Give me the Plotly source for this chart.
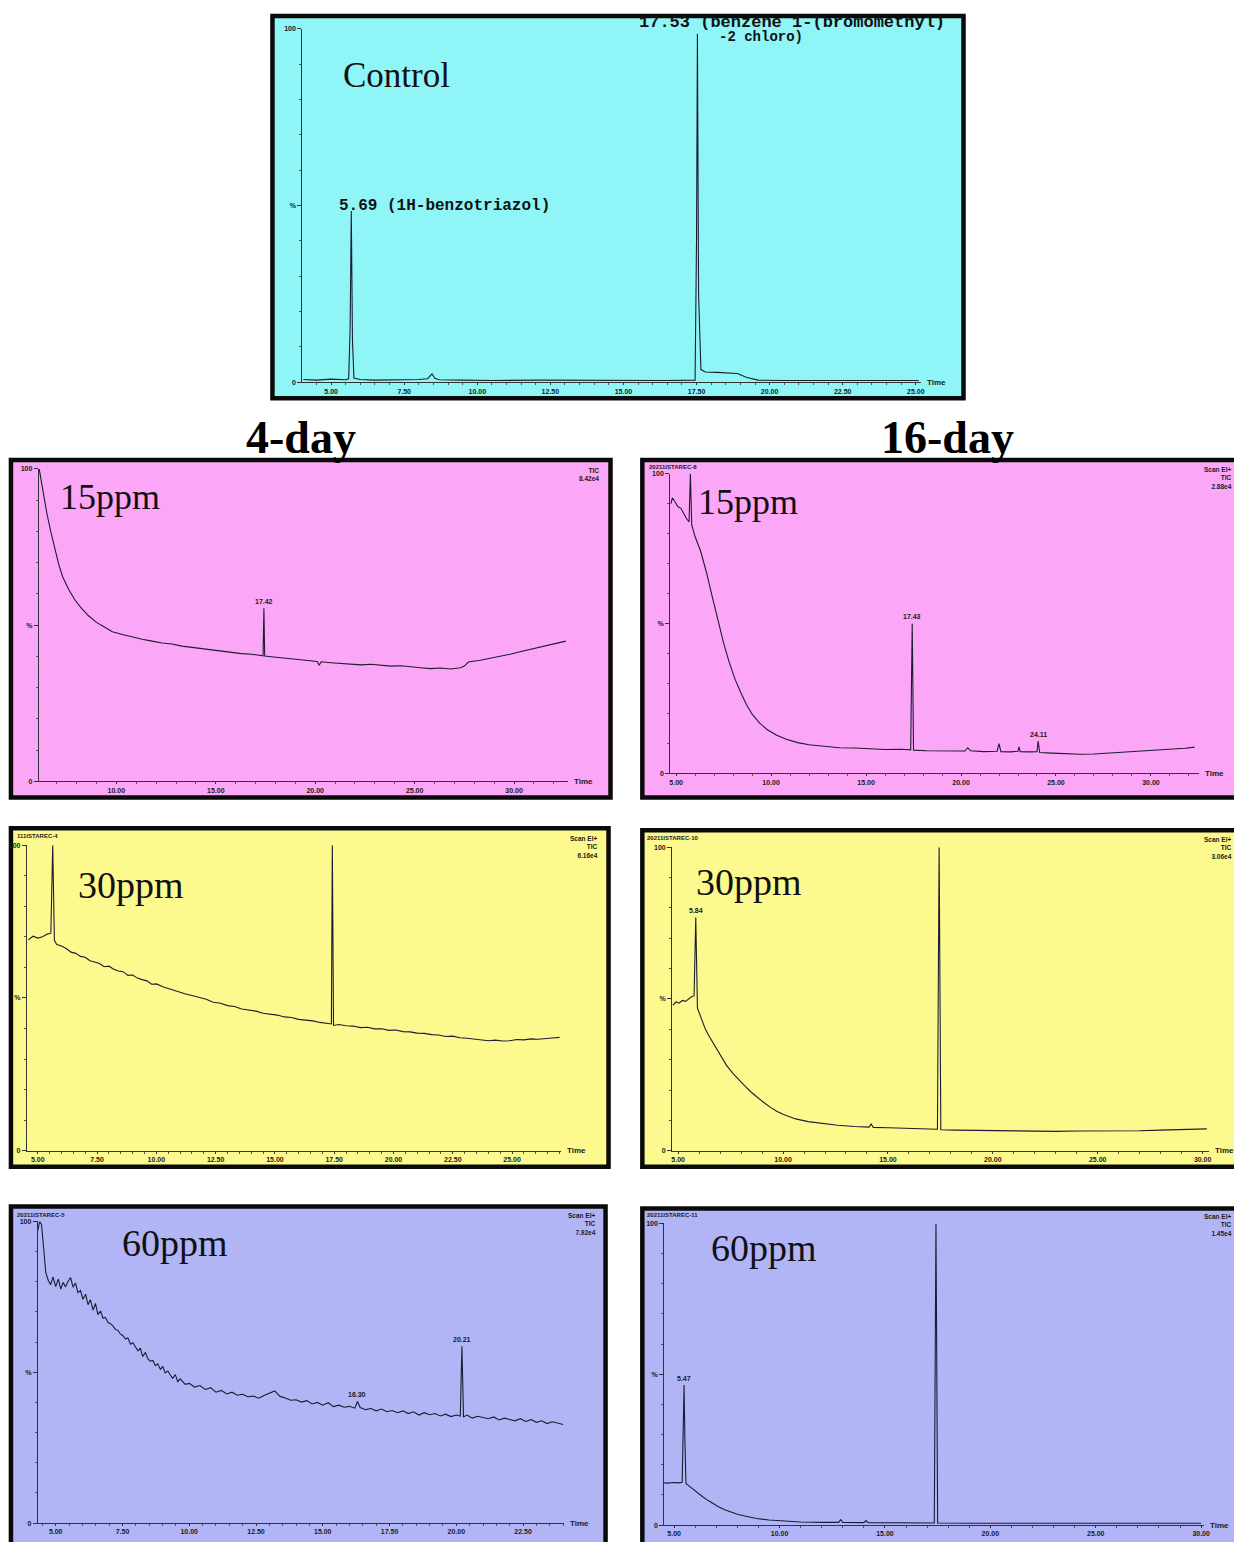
import plotly.graph_objects as go

W, H = 1234, 1542

# ------------------------------------------------------------------ data
control_t = [4.05, 4.5, 5.0, 5.5, 5.6, 5.65, 5.69, 5.73, 5.78, 6.0, 6.5, 7.0, 7.5, 8.0, 8.3, 8.45, 8.55, 8.7,
             9.5, 10.5, 12.0, 13.5, 15.0, 16.5, 17.45, 17.5, 17.53, 17.57, 17.65, 17.8, 18.2, 18.6, 18.9, 19.2,
             19.6, 20.5, 22.0, 23.5, 25.1]
control_pct = [0.8, 0.6, 0.9, 0.7, 1.0, 15.0, 48.5, 12.0, 1.2, 0.8, 0.6, 0.7, 0.6, 0.8, 1.0, 2.4, 1.1, 0.7,
               0.6, 0.5, 0.6, 0.5, 0.6, 0.5, 0.6, 40.0, 98.6, 25.0, 3.6, 2.9, 2.8, 2.7, 2.5, 1.4,
               0.6, 0.5, 0.6, 0.5, 0.5]
control_ticks = [5.0, 7.5, 10.0, 12.5, 15.0, 17.5, 20.0, 22.5, 25.0]

d4_15_t = [6.12, 6.3, 6.5, 6.7, 6.9, 7.1, 7.3, 7.6, 7.9, 8.2, 8.6, 9.0, 9.4, 9.8, 10.3, 10.8, 11.3, 11.8, 12.3,
           12.8, 13.3, 13.8, 14.3, 14.8, 15.3, 15.8, 16.3, 16.8, 17.3, 17.38, 17.42, 17.46, 17.8, 18.3, 18.8,
           19.3, 19.8, 20.1, 20.2, 20.3, 20.8, 21.3, 21.8, 22.3, 22.8, 23.3, 23.8, 24.3, 24.8, 25.3, 25.8, 26.3,
           26.8, 27.3, 27.5, 27.7, 28.3, 28.8, 29.3, 29.8, 30.3, 30.8, 31.3, 31.8, 32.3, 32.6]
d4_15_pct = [100, 93, 86, 80, 75, 69.5, 65.5, 61.5, 58.2, 55.8, 53.0, 50.9, 49.4, 47.9, 47.0, 46.2, 45.5, 44.9,
             44.3, 44.0, 43.3, 42.9, 42.5, 42.2, 41.6, 41.4, 40.9, 40.7, 40.3, 40.2, 55.4, 40.1, 39.9, 39.6, 39.2,
             39.0, 38.6, 38.4, 37.2, 38.3, 38.0, 37.8, 37.6, 37.3, 37.5, 37.1, 36.9, 37.0, 36.6, 36.4, 36.1, 36.3,
             36.0, 36.4, 36.9, 38.2, 38.8, 39.4, 40.1, 40.7, 41.5, 42.2, 42.9, 43.8, 44.4, 44.9]
d4_15_ticks = [10.0, 15.0, 20.0, 25.0, 30.0]
d4_15_peaks = [17.42]
d4_15_peak_labels = ["17.42"]

d16_15_t = [4.72, 4.8, 4.95, 5.1, 5.25, 5.4, 5.55, 5.68, 5.75, 5.82, 6.0, 6.3, 6.6, 6.9, 7.2, 7.5, 7.8, 8.1, 8.4,
            8.7, 9.0, 9.4, 9.8, 10.3, 10.8, 11.4, 12.0, 12.8, 13.6, 14.4, 15.2, 16.0, 16.8, 17.35, 17.43, 17.5,
            18.2, 19.0, 19.8, 20.2, 20.35, 20.5, 21.2, 21.9, 22.0, 22.1, 22.6, 23.0, 23.05, 23.12, 23.6, 24.0,
            24.06, 24.14, 24.8, 25.5, 26.3, 27.0, 27.8, 28.6, 29.4, 30.2, 31.0, 31.8, 32.3]
d16_15_pct = [90, 92, 90.5, 89, 88.5, 86.5, 85, 84, 100, 83, 79, 74, 67, 59, 51, 43.5, 37, 31.5, 27,
              23, 19.8, 16.8, 14.6, 12.8, 11.4, 10.3, 9.6, 9.0, 8.6, 8.5, 8.2, 8.0, 8.1, 7.9, 50, 7.8,
              7.6, 7.5, 7.4, 7.5, 8.6, 7.6, 7.3, 7.4, 10.0, 7.3, 7.2, 7.4, 8.9, 7.3, 7.2, 7.3,
              10.8, 7.0, 6.8, 6.6, 6.4, 6.5, 6.8, 7.1, 7.3, 7.6, 8.0, 8.4, 8.8]
d16_15_ticks = [5.0, 10.0, 15.0, 20.0, 25.0, 30.0]
d16_15_peaks = [5.75, 17.43, 24.06]
d16_15_peak_labels = ["5.59", "17.43", "24.11"]

d4_30_t = [4.6, 4.8, 5.0, 5.2, 5.4, 5.55, 5.63, 5.7, 5.8, 6.0, 6.2, 6.4, 6.6, 6.8, 7.0, 7.2, 7.4, 7.6, 7.8, 8.0,
           8.2, 8.4, 8.6, 8.8, 9.0, 9.2, 9.4, 9.6, 9.8, 10.0, 10.3, 10.6, 10.9, 11.2, 11.5, 11.8, 12.1, 12.4,
           12.7, 13.0, 13.3, 13.6, 13.9, 14.2, 14.5, 14.8, 15.1, 15.4, 15.7, 16.0, 16.3, 16.6, 16.9, 17.2,
           17.38, 17.42, 17.47, 17.7, 18.0, 18.3, 18.6, 18.9, 19.2, 19.5, 19.8, 20.1, 20.4, 20.7, 21.0, 21.3,
           21.6, 21.9, 22.2, 22.5, 22.8, 23.1, 23.4, 23.7, 24.0, 24.3, 24.6, 24.9, 25.2, 25.5, 25.8, 26.1,
           26.4, 26.7, 27.0]
d4_30_pct = [69.0, 70.2, 69.6, 70.0, 70.9, 71.2, 100, 68.8, 67.5, 67.0, 66.2, 65.0, 64.6, 63.6, 63.3, 62.2,
             61.8, 61.3, 60.2, 60.4, 59.4, 58.8, 58.6, 57.4, 57.5, 56.5, 56.0, 55.6, 54.5, 54.6, 53.6, 52.8,
             52.1, 51.4, 50.8, 50.1, 49.6, 48.6, 48.3, 47.5, 47.2, 46.4, 46.0, 45.7, 45.0, 44.7, 44.4, 43.8,
             43.6, 43.0, 42.8, 42.5, 42.0, 41.8, 41.5, 100, 41.0, 41.3, 40.9, 40.8, 40.3, 40.4, 39.9, 39.9,
             39.4, 39.5, 39.0, 38.9, 38.5, 38.4, 38.0, 37.9, 37.4, 37.5, 37.0, 36.8, 36.5, 36.4, 36.0, 36.2,
             35.9, 36.0, 36.4, 36.3, 36.6, 36.5, 36.8, 36.9, 37.1]
d4_30_ticks = [5.0, 7.5, 10.0, 12.5, 15.0, 17.5, 20.0, 22.5, 25.0]
d4_30_peaks = [5.63, 17.42]
d4_30_peak_labels = ["5.63", "17.42"]

d16_30_t = [4.75, 4.9, 5.05, 5.2, 5.35, 5.5, 5.65, 5.76, 5.84, 5.92, 6.1, 6.3, 6.5, 6.7, 6.9, 7.1, 7.3, 7.6,
            7.9, 8.2, 8.5, 8.8, 9.1, 9.4, 9.7, 10.0, 10.6, 11.2, 11.9, 12.6, 13.4, 14.1, 14.2, 14.3, 15.0,
            15.8, 16.6, 17.36, 17.44, 17.52, 18.2, 19.0, 20.0, 21.0, 22.0, 23.0, 24.0, 25.0, 26.0, 27.0,
            28.0, 29.0, 30.0, 30.2]
d16_30_pct = [48.0, 49.0, 48.6, 49.5, 49.2, 50.0, 50.8, 51.0, 76.8, 47.0, 43.5, 40.0, 37.5, 35.2, 33.0, 30.5,
              28.2, 25.6, 23.3, 21.2, 19.2, 17.4, 15.8, 14.3, 13.0, 12.0, 10.5, 9.6, 8.9, 8.4, 8.0, 7.8, 8.8,
              7.7, 7.6, 7.4, 7.3, 7.1, 100, 6.9, 6.8, 6.7, 6.6, 6.6, 6.5, 6.4, 6.5, 6.5, 6.4, 6.6,
              6.8, 7.0, 7.3, 7.2]
d16_30_ticks = [5.0, 10.0, 15.0, 20.0, 25.0, 30.0]
d16_30_peaks = [5.84, 17.44]
d16_30_peak_labels = ["5.84", "17.44"]

d4_60_t = [4.33, 4.4, 4.47, 4.55, 4.63, 4.72, 4.81, 4.9, 5.0, 5.1,
           5.19, 5.28, 5.37, 5.46, 5.56, 5.65, 5.74, 5.83, 5.93, 6.02,
           6.12, 6.21, 6.3, 6.4, 6.49, 6.58, 6.68, 6.77, 6.86, 6.96,
           7.05, 7.14, 7.24, 7.33, 7.42, 7.52, 7.61, 7.7, 7.8, 7.89,
           7.98, 8.08, 8.17, 8.26, 8.36, 8.45, 8.54, 8.64, 8.73, 8.82,
           8.92, 9.01, 9.1, 9.2, 9.29, 9.38, 9.48, 9.57, 9.66, 9.76,
           9.85, 10.0, 10.2, 10.4, 10.6, 10.8, 11.0, 11.2, 11.4, 11.6,
           11.8, 12.0, 12.2, 12.4, 12.6, 12.8, 13.0, 13.2, 13.4, 13.6,
           13.8, 14.0, 14.2, 14.4, 14.6, 14.8, 15.0, 15.2, 15.4, 15.6,
           15.8, 16.0, 16.2, 16.3, 16.4, 16.6, 16.8, 17.0, 17.2, 17.4,
           17.6, 17.8, 18.0, 18.2, 18.4, 18.6, 18.8, 19.0, 19.2, 19.4,
           19.6, 19.8, 20.0, 20.15, 20.21, 20.27, 20.4, 20.6, 20.8, 21.0,
           21.2, 21.4, 21.6, 21.8, 22.0, 22.2, 22.4, 22.6, 22.8, 23.0,
           23.2, 23.4, 23.6, 23.8, 24.0]
d4_60_pct = [97, 100, 99, 90, 83, 80.5, 79.0, 81.6, 78.4, 80.9,
             77.6, 79.8, 78.3, 80.1, 81.4, 78.2, 79.6, 76.4, 77.1, 74.2,
             75.9, 72.4, 74.0, 70.6, 72.8, 69.1, 70.3, 67.9, 68.2, 66.5,
             66.1, 65.4, 64.2, 63.9, 62.7, 62.1, 61.0, 61.4, 59.3, 59.8,
             58.4, 57.1, 58.0, 55.2, 56.6, 54.5, 53.7, 53.9, 52.2, 52.8,
             51.0, 51.9, 49.8, 50.4, 49.1, 48.0, 49.2, 46.9, 47.8, 46.8,
             46.0, 46.3, 45.1, 45.6, 44.3, 44.9, 43.4, 44.0, 42.8, 43.4,
             42.4, 42.7, 41.9, 42.1, 41.4, 42.3, 43.0, 43.8, 42.0, 41.5,
             40.7, 40.9, 40.1, 40.6, 39.5, 40.0, 39.1, 39.9, 38.6, 39.1,
             38.4, 38.7, 38.1, 40.3, 38.3, 37.6, 38.0, 37.2, 37.8, 36.9,
             37.3, 36.6, 37.2, 36.3, 36.9, 35.8, 36.6, 35.9, 36.3, 35.5,
             36.1, 35.3, 35.8, 35.5, 58.6, 35.2, 35.8, 34.8, 35.4, 34.9,
             34.6, 35.2, 34.2, 34.8, 34.4, 33.9, 34.6, 33.7, 34.3, 33.4,
             33.9, 33.0, 33.6, 33.1, 32.7]
d4_60_ticks = [5.0, 7.5, 10.0, 12.5, 15.0, 17.5, 20.0, 22.5]
d4_60_peaks = [16.3, 20.21]
d4_60_peak_labels = ["16.30", "20.21"]

d16_60_t = [4.45, 4.7, 4.95, 5.2, 5.38, 5.43, 5.47, 5.51, 5.56, 5.7, 5.9, 6.1, 6.35, 6.6, 6.85, 7.1, 7.4, 7.7,
            8.0, 8.4, 8.9, 9.5, 10.2, 11.0, 12.0, 12.8, 12.9, 13.0, 14.0, 14.1, 14.2, 15.5, 17.34, 17.42,
            17.5, 19.0, 21.0, 23.0, 25.0, 27.0, 29.0, 30.0]
d16_60_pct = [14.0, 13.9, 14.1, 14.0, 14.2, 30.0, 46.4, 28.0, 13.8, 13.0, 11.8, 10.6, 9.4, 8.2, 7.1, 6.1,
              5.1, 4.3, 3.6, 2.9, 2.2, 1.7, 1.3, 1.0, 0.9, 0.9, 1.8, 0.9, 0.8, 1.5, 0.8, 0.7, 0.7, 100,
              0.7, 0.6, 0.6, 0.6, 0.6, 0.6, 0.6, 0.6]
d16_60_ticks = [5.0, 10.0, 15.0, 20.0, 25.0, 30.0]
d16_60_peaks = [5.47, 17.42]
d16_60_peak_labels = ["5.47", "17.42"]

y_tick_vals = [0, 50, 100]
y_tick_text = ["0", "%", "100"]

# ------------------------------------------------------------------ layout helpers
def fx(x):
    return x / W


def fy(y):
    return 1 - y / H


PINK, YELLOW, LAV, CYAN = "#fba6f6", "#fcf98e", "#b1b5f6", "#8ff5f6"

panels = [
    dict(t=control_t, v=control_pct, ticks=control_ticks, peaks=[], plabels=[],
         box=(273, 12, 968, 396), fill=CYAN, ax=(303, 925, 380, 25), tmap=(5.0, 332, 29.4),
         label=("Control", 398, 72, 35), topleft=None, topright=None, minor=0.5),
    dict(t=d4_15_t, v=d4_15_pct, ticks=d4_15_ticks, peaks=d4_15_peaks, plabels=d4_15_peak_labels,
         box=(10, 458, 613, 797), fill=PINK, ax=(38, 570, 781, 467), tmap=(10.0, 116, 20.0),
         label=("15ppm", 110, 495, 36), topleft=None, topright=(603, 463, "TIC<br>8.42e4"), minor=1),
    dict(t=d16_15_t, v=d16_15_pct, ticks=d16_15_ticks, peaks=d16_15_peaks, plabels=d16_15_peak_labels,
         box=(645, 458, 1250, 797), fill=PINK, ax=(673, 1205, 773, 472), tmap=(5.0, 679, 19.1),
         label=("15ppm", 751, 500, 36), topleft=(650, 460, "20211ISTAREC-8"),
         topright=(1240, 462, "Scan EI+<br>TIC<br>2.88e4"), minor=1),
    dict(t=d4_30_t, v=d4_30_pct, ticks=d4_30_ticks, peaks=d4_30_peaks, plabels=d4_30_peak_labels,
         box=(10, 828, 611, 1168), fill=YELLOW, ax=(26, 563, 1152, 845), tmap=(5.0, 37, 23.85),
         label=("30ppm", 131, 885, 38), topleft=(14, 831, "111ISTAREC-4"),
         topright=(602, 833, "Scan EI+<br>TIC<br>6.16e4"), minor=0.5),
    dict(t=d16_30_t, v=d16_30_pct, ticks=d16_30_ticks, peaks=d16_30_peaks, plabels=d16_30_peak_labels,
         box=(645, 830, 1250, 1168), fill=YELLOW, ax=(675, 1215, 1152, 847), tmap=(5.0, 681, 21.1),
         label=("30ppm", 752, 882, 38), topleft=(648, 833, "20211ISTAREC-10"),
         topright=(1240, 834, "Scan EI+<br>TIC<br>3.06e4"), minor=1),
    dict(t=d4_60_t, v=d4_60_pct, ticks=d4_60_ticks, peaks=d4_60_peaks, plabels=d4_60_peak_labels,
         box=(10, 1208, 608, 1550), fill=LAV, ax=(37, 566, 1526, 1223), tmap=(5.0, 55, 26.86),
         label=("60ppm", 175, 1245, 38), topleft=(14, 1211, "20211ISTAREC-5"),
         topright=(600, 1212, "Scan EI+<br>TIC<br>7.92e4"), minor=0.5),
    dict(t=d16_60_t, v=d16_60_pct, ticks=d16_60_ticks, peaks=d16_60_peaks, plabels=d16_60_peak_labels,
         box=(645, 1210, 1250, 1550), fill=LAV, ax=(667, 1210, 1528, 1225), tmap=(5.0, 677, 21.2),
         label=("60ppm", 767, 1250, 38), topleft=(648, 1212, "20211ISTAREC-11"),
         topright=(1240, 1213, "Scan EI+<br>TIC<br>1.45e4"), minor=1),
]

fig = go.Figure()
shapes = []
annotations = []
layout_axes = {}

small_font = dict(family="Liberation Sans", size=8, color="#1a1a1a")
tiny_font = dict(family="Liberation Sans", size=7, color="#1a1a1a")

for i, p in enumerate(panels, start=1):
    assert len(p["t"]) == len(p["v"])
    xa = "x" if i == 1 else f"x{i}"
    ya = "y" if i == 1 else f"y{i}"
    xkey = "xaxis" if i == 1 else f"xaxis{i}"
    ykey = "yaxis" if i == 1 else f"yaxis{i}"

    bx0, by0, bx1, by1 = p["box"]
    shapes.append(dict(type="rect", xref="paper", yref="paper", layer="below",
                       x0=fx(bx0), x1=fx(bx1), y0=fy(by1), y1=fy(by0),
                       fillcolor=p["fill"], line=dict(color="#0a0a0a", width=4.5)))

    axl, axr, ay0, ay100 = p["ax"]
    t0, xpx0, ppm = p["tmap"]
    tlo = t0 + (axl - xpx0) / ppm
    thi = t0 + (axr - xpx0) / ppm

    fig.add_trace(go.Scatter(x=p["t"], y=p["v"], mode="lines", xaxis=xa, yaxis=ya,
                             line=dict(color="#1c1c30", width=1.1), showlegend=False,
                             hoverinfo="skip"))

    layout_axes[xkey] = dict(domain=[fx(axl), fx(axr)], range=[tlo, thi], anchor=ya,
                             showline=True, linecolor="#333", linewidth=1, showgrid=False,
                             zeroline=False, ticks="outside", ticklen=2, tickcolor="#333",
                             ticklabelstandoff=0,
                             tickvals=p["ticks"], ticktext=[f"<b>{v:.2f}</b>" for v in p["ticks"]],
                             tickfont=tiny_font, fixedrange=True,
                             minor=dict(dtick=p["minor"], ticks="outside", ticklen=2, tickcolor="#555"))
    layout_axes[ykey] = dict(domain=[fy(ay0), fy(ay100)], range=[0, 100], anchor=xa,
                             showline=True, linecolor="#333", linewidth=1, showgrid=False,
                             zeroline=False, ticks="outside", ticklen=4, tickcolor="#333",
                             tickvals=y_tick_vals, ticktext=[f"<b>{s}</b>" for s in y_tick_text],
                             tickfont=tiny_font, fixedrange=True,
                             minor=dict(dtick=10, ticks="outside", ticklen=2, tickcolor="#555"))

    # "Time" at end of x axis
    annotations.append(dict(xref="paper", yref="paper", x=fx(axr + 4), y=fy(ay0),
                            xanchor="left", yanchor="middle", showarrow=False,
                            text="<b>Time</b>", font=small_font))

    # peak labels
    for pt, lab in zip(p["peaks"], p["plabels"]):
        near = [v for t, v in zip(p["t"], p["v"]) if abs(t - pt) < 0.08]
        top = max(near) if near else 0
        annotations.append(dict(xref=xa, yref=ya, x=pt, y=top + 0.5, xanchor="center",
                                yanchor="bottom", showarrow=False, text=f"<b>{lab}</b>",
                                font=tiny_font))

    lab, lx, ly, lsz = p["label"]
    annotations.append(dict(xref="paper", yref="paper", x=fx(lx), y=fy(ly), xanchor="center",
                            yanchor="middle", showarrow=False, text=lab,
                            font=dict(family="Liberation Serif", size=lsz, color="#111")))

    if p["topleft"]:
        tx, ty, tt = p["topleft"]
        annotations.append(dict(xref="paper", yref="paper", x=fx(tx), y=fy(ty), xanchor="left",
                                yanchor="top", showarrow=False, text=f"<b>{tt}</b>",
                                font=dict(family="Liberation Sans", size=6, color="#1a1a1a")))
    if p["topright"]:
        tx, ty, tt = p["topright"]
        annotations.append(dict(xref="paper", yref="paper", x=fx(tx), y=fy(ty), xanchor="right",
                                yanchor="top", showarrow=False, align="right", text=f"<b>{tt}</b>",
                                font=dict(family="Liberation Sans", size=6.5, color="#1a1a1a")))

# control compound names
annotations.append(dict(xref="paper", yref="paper", x=fx(338), y=fy(203), xanchor="left", yanchor="middle",
                        showarrow=False, text="<b>5.69 (1H-benzotriazol)</b>",
                        font=dict(family="Liberation Mono", size=16, color="#111")))
annotations.append(dict(xref="paper", yref="paper", x=fx(640), y=fy(19), xanchor="left", yanchor="middle",
                        showarrow=False, text="<b>17.53 (benzene 1-(bromomethyl)</b>",
                        font=dict(family="Liberation Mono", size=17, color="#111")))
annotations.append(dict(xref="paper", yref="paper", x=fx(720), y=fy(33), xanchor="left", yanchor="middle",
                        showarrow=False, text="<b>-2 chloro)</b>",
                        font=dict(family="Liberation Mono", size=14, color="#111")))

# column headings
for txt, cx in (("4-day", 302), ("16-day", 952)):
    annotations.append(dict(xref="paper", yref="paper", x=fx(cx), y=fy(435), xanchor="center",
                            yanchor="middle", showarrow=False, text=f"<b>{txt}</b>",
                            font=dict(family="Liberation Serif", size=46, color="#000")))

fig.update_layout(width=W, height=H, margin=dict(l=0, r=0, t=0, b=0),
                  paper_bgcolor="white", plot_bgcolor="rgba(0,0,0,0)",
                  shapes=shapes, annotations=annotations, showlegend=False, **layout_axes)

fig.write_html("out.html", config={"displayModeBar": False},
               post_script="document.body.style.margin='0';document.body.style.overflow='hidden';")
